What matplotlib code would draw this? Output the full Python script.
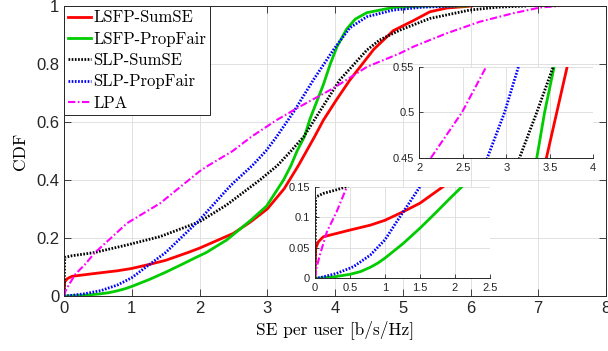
import matplotlib
matplotlib.use("Agg")
import matplotlib.pyplot as plt
from matplotlib.ticker import FormatStrFormatter

# CDF curves (x = SE per user, y = CDF)
lsfpSumX = [0, 0, 0.01, 0.05, 0.12, 0.5, 0.79, 1.0, 1.26, 1.5, 1.83, 2.0, 2.5, 2.75, 3.0, 3.25, 3.46, 3.58, 3.70, 3.83, 4.02, 4.22, 4.57, 4.86, 5.16, 5.4, 5.65, 6.02]
lsfpSumY = [0, 0, 0.049, 0.06, 0.068, 0.079, 0.087, 0.095, 0.109, 0.123, 0.15, 0.165, 0.216, 0.255, 0.30, 0.37, 0.45, 0.50, 0.55, 0.607, 0.676, 0.745, 0.85, 0.915, 0.95, 0.98, 0.993, 1.0]

lsfpPropX = [0, 0.25, 0.5, 0.65, 0.79, 0.9, 1.0, 1.26, 1.5, 1.74, 1.93, 2.1, 2.4, 2.75, 2.99, 3.24, 3.35, 3.44, 3.55, 3.63, 3.73, 3.83, 3.93, 4.03, 4.17, 4.3, 4.47, 4.86, 5.4, 5.95]
lsfpPropY = [0, 0.002, 0.0065, 0.011, 0.018, 0.025, 0.033, 0.057, 0.082, 0.109, 0.131, 0.15, 0.193, 0.26, 0.31, 0.40, 0.45, 0.50, 0.55, 0.61, 0.67, 0.73, 0.80, 0.86, 0.92, 0.955, 0.977, 0.995, 1.0, 1.0]

slpSumX = [0, 0, 0.01, 0.12, 0.31, 0.45, 0.93, 1.42, 2.0, 2.4, 2.89, 3.15, 3.35, 3.54, 3.73, 4.07, 4.47, 4.66, 4.96, 5.4, 5.99, 6.4, 6.83]
slpSumY = [0, 0, 0.133, 0.139, 0.145, 0.15, 0.176, 0.205, 0.256, 0.314, 0.40, 0.45, 0.50, 0.55, 0.62, 0.745, 0.848, 0.883, 0.917, 0.957, 0.986, 0.996, 1.0]

slpPropX = [0, 0.07, 0.31, 0.55, 0.79, 1.0, 1.17, 1.31, 1.5, 2.0, 2.4, 2.5, 2.78, 2.98, 3.14, 3.39, 3.68, 3.98, 4.22, 4.47, 4.86, 5.3, 5.8]
slpPropY = [0, 0.001, 0.008, 0.019, 0.038, 0.063, 0.093, 0.117, 0.15, 0.262, 0.366, 0.39, 0.45, 0.50, 0.55, 0.635, 0.745, 0.85, 0.925, 0.963, 0.986, 0.996, 1.0]

lpaX = [0, 0.02, 0.07, 0.17, 0.31, 0.45, 0.93, 1.42, 2.0, 2.13, 2.49, 2.77, 3.14, 3.48, 3.98, 4.47, 4.96, 5.16, 5.65, 6.14, 6.63, 7.03, 7.32]
lpaY = [0, 0.016, 0.038, 0.076, 0.109, 0.148, 0.251, 0.32, 0.43, 0.45, 0.50, 0.55, 0.607, 0.653, 0.717, 0.79, 0.837, 0.86, 0.906, 0.946, 0.975, 0.995, 1.0]

names = ["LSFP-SumSE", "LSFP-PropFair", "SLP-SumSE", "SLP-PropFair", "LPA"]

tickGrey = "#262626"
dotStyle = (0, (0.6, 0.55))
dashDot = (0, (3.5, 1.2, 0.8, 1.2))

def drawCurves(ax, lw):
    ax.plot(lsfpSumX, lsfpSumY, color="#ff0000", lw=lw, label=names[0])
    ax.plot(lsfpPropX, lsfpPropY, color="#00cc00", lw=lw, label=names[1])
    ax.plot(slpSumX, slpSumY, color="black", lw=lw, linestyle=dotStyle, label=names[2])
    ax.plot(slpPropX, slpPropY, color="#0000ff", lw=lw, linestyle=dotStyle, label=names[3])
    ax.plot(lpaX, lpaY, color="#ff00ff", lw=lw * 0.75, linestyle=dashDot, label=names[4])

def styleAxes(ax, fontSize, box):
    ax.grid(True, color="#dcdcdc", lw=0.6)
    ax.set_axisbelow(True)
    ax.tick_params(direction="in", colors=tickGrey, labelsize=fontSize, length=3, width=0.6,
                   top=box, right=box)
    for side in ["left", "bottom", "top", "right"]:
        ax.spines[side].set_color(tickGrey)
        ax.spines[side].set_linewidth(0.7)
    if not box:
        ax.spines["top"].set_visible(False)
        ax.spines["right"].set_visible(False)
    for lab in ax.get_xticklabels() + ax.get_yticklabels():
        lab.set_family("Liberation Sans")

fig = plt.figure(figsize=(6.08, 3.51), dpi=100)

# main axes
ax = fig.add_axes([0.1053, 0.1567, 0.8914, 0.8262])
drawCurves(ax, 2.0)
ax.set_xlim(0, 8)
ax.set_ylim(0, 1)
ax.set_xticks(range(0, 9))
ax.set_yticks([0, 0.2, 0.4, 0.6, 0.8, 1])
ax.yaxis.set_major_formatter(FormatStrFormatter("%g"))
styleAxes(ax, 12, True)
ax.tick_params(length=5)
ax.set_xlabel("SE per user [b/s/Hz]", family="cmr10", fontsize=12.5, labelpad=3)
ax.set_ylabel("CDF", family="cmr10", fontsize=12.5, labelpad=6)
leg = ax.legend(loc="upper left", bbox_to_anchor=(0, 1), borderaxespad=0, fancybox=False,
                framealpha=1, edgecolor="#262626", handlelength=1.35, handletextpad=0.15,
                labelspacing=0.36, borderpad=0.25, prop={"family": "cmr10", "size": 12})
leg.get_frame().set_linewidth(0.7)

# zoom inset around the median
ins1 = fig.add_axes([0.6896, 0.549, 0.2862, 0.261])
drawCurves(ins1, 2.0)
ins1.set_xlim(2, 4)
ins1.set_ylim(0.45, 0.55)
ins1.set_xticks([2, 2.5, 3, 3.5, 4])
ins1.set_yticks([0.45, 0.5, 0.55])
ins1.xaxis.set_major_formatter(FormatStrFormatter("%g"))
ins1.yaxis.set_major_formatter(FormatStrFormatter("%g"))
styleAxes(ins1, 8, False)

# zoom inset on the lower tail
ins2 = fig.add_axes([0.518, 0.2071, 0.2878, 0.261])
drawCurves(ins2, 2.0)
ins2.set_xlim(0, 2.5)
ins2.set_ylim(0, 0.15)
ins2.set_xticks([0, 0.5, 1, 1.5, 2, 2.5])
ins2.set_yticks([0, 0.05, 0.1, 0.15])
ins2.xaxis.set_major_formatter(FormatStrFormatter("%g"))
ins2.yaxis.set_major_formatter(FormatStrFormatter("%g"))
styleAxes(ins2, 8, False)

fig.savefig("out.png", dpi=100)
